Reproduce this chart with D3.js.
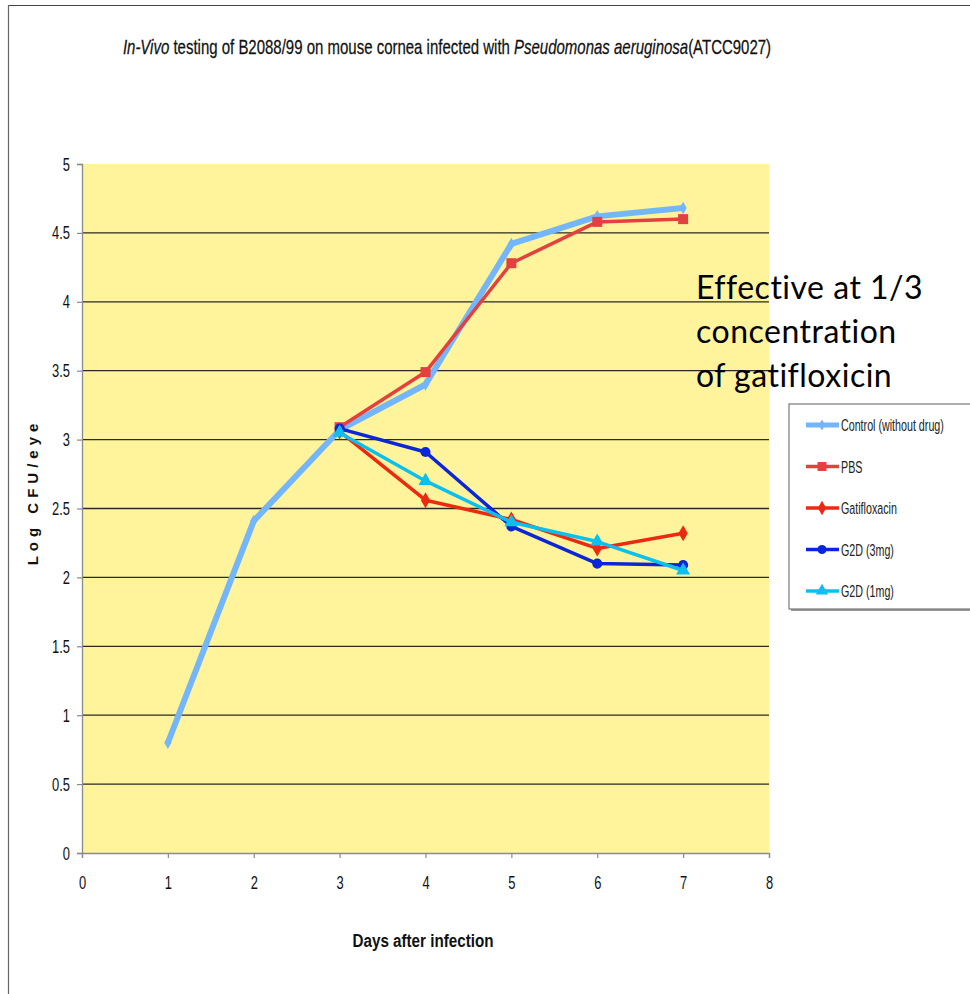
<!DOCTYPE html>
<html>
<head>
<meta charset="utf-8">
<script src="https://cdn.jsdelivr.net/npm/d3@7"></script>
<style>
  body { margin: 0; background: #fff; }
  svg { display: block; }
  text { font-family: "Liberation Sans", Arial, sans-serif; }
</style>
</head>
<body>
<svg id="chart" width="970" height="994"></svg>
<script>
// Chart data
const allDays = [1, 2, 3, 4, 5, 6, 7];
const laterDays = [3, 4, 5, 6, 7];
const controlVals = [0.80, 2.41, 3.07, 3.40, 4.42, 4.62, 4.68];
const pbsVals = [3.09, 3.49, 4.28, 4.58, 4.60];
const gatiVals = [3.06, 2.56, 2.42, 2.21, 2.32];
const g2d3Vals = [3.08, 2.91, 2.37, 2.10, 2.09];
const g2d1Vals = [3.05, 2.70, 2.40, 2.26, 2.05];
const seriesNames = ["Control (without drug)", "PBS", "Gatifloxacin", "G2D (3mg)", "G2D (1mg)"];
const xTicks = [0, 1, 2, 3, 4, 5, 6, 7, 8];
const yTicks = [0, 0.5, 1, 1.5, 2, 2.5, 3, 3.5, 4, 4.5, 5];

// series styling
const series = [
  { name: seriesNames[0], days: allDays, vals: controlVals, color: "#74b6fb", width: 6, marker: "diamond", size: 45 },
  { name: seriesNames[1], days: laterDays, vals: pbsVals, color: "#e4403f", width: 3.5, marker: "square", size: 100 },
  { name: seriesNames[2], days: laterDays, vals: gatiVals, color: "#ec2a12", width: 3.5, marker: "diamond", size: 75 },
  { name: seriesNames[3], days: laterDays, vals: g2d3Vals, color: "#0a26d6", width: 3.5, marker: "circle", size: 80 },
  { name: seriesNames[4], days: laterDays, vals: g2d1Vals, color: "#0cc0ee", width: 3.5, marker: "triangle", size: 85 }
];

const symbolTypes = {
  diamond: d3.symbolDiamond,
  square: d3.symbolSquare,
  circle: d3.symbolCircle,
  triangle: d3.symbolTriangle
};

// the original uses a narrow face; squeeze the regular one instead
const squeeze = 0.68;

const svg = d3.select("#chart");

// outer frame (only top and left edges show)
svg.append("line").attr("x1", 8).attr("x2", 970).attr("y1", 5.5).attr("y2", 5.5)
  .attr("stroke", "#444").attr("stroke-width", 1.2);
svg.append("line").attr("x1", 8.5).attr("x2", 8.5).attr("y1", 5).attr("y2", 994)
  .attr("stroke", "#666").attr("stroke-width", 1.2);

// plot area
const plot = { left: 82, right: 769, top: 164, bottom: 853 };

const x = d3.scaleLinear().domain([0, 8]).range([plot.left, plot.right]);
const y = d3.scaleLinear().domain([0, 5]).range([plot.bottom, plot.top]);

svg.append("rect")
  .attr("x", plot.left).attr("y", plot.top)
  .attr("width", plot.right - plot.left).attr("height", plot.bottom - plot.top)
  .attr("fill", "#fff49c");

// horizontal grid lines
svg.append("g")
  .selectAll("line")
  .data(yTicks.filter(d => d > 0 && d < 5))
  .join("line")
    .attr("x1", plot.left).attr("x2", plot.right)
    .attr("y1", d => y(d)).attr("y2", d => y(d))
    .attr("stroke", "#2a2a22").attr("stroke-width", 1.3);

// axes
const yAxis = svg.append("g")
  .attr("transform", `translate(${plot.left},0)`)
  .call(d3.axisLeft(y).tickValues(yTicks).tickSize(5).tickFormat(d3.format("")));
const xAxis = svg.append("g")
  .attr("transform", `translate(0,${plot.bottom})`)
  .call(d3.axisBottom(x).tickValues(xTicks).tickSize(5));

[yAxis, xAxis].forEach(ax => {
  ax.select(".domain").attr("stroke", "#8a8a8a").attr("stroke-width", 1.3);
  ax.selectAll(".tick line").attr("stroke", "#8a8a8a").attr("stroke-width", 1.2);
  ax.selectAll(".tick text")
    .attr("fill", "#111")
    .style("font-family", "'Liberation Sans', Arial, sans-serif")
    .style("font-size", "19px")
    .attr("transform", `scale(${squeeze},1)`);
});
yAxis.selectAll(".tick text").attr("x", -12 / squeeze);
xAxis.selectAll(".tick text").attr("y", 23);

// lines and markers
const line = d3.line()
  .x(d => x(d.day))
  .y(d => y(d.val));

series.forEach(s => {
  const pts = s.days.map((day, i) => ({ day: day, val: s.vals[i] }));
  const g = svg.append("g");
  g.append("path")
    .datum(pts)
    .attr("d", line)
    .attr("fill", "none")
    .attr("stroke", s.color)
    .attr("stroke-width", s.width)
    .attr("stroke-linejoin", "round");
  g.selectAll("path.marker")
    .data(pts)
    .join("path")
      .attr("class", "marker")
      .attr("transform", d => `translate(${x(d.day)},${y(d.val)})`)
      .attr("d", d3.symbol().type(symbolTypes[s.marker]).size(s.size))
      .attr("fill", s.color);
});

// title, squeezed as a whole so the tspans keep their flow
const title = svg.append("text")
  .attr("transform", "translate(447,54) scale(0.75,1)")
  .attr("text-anchor", "middle")
  .style("font-size", "20px")
  .attr("fill", "#111")
  .attr("stroke", "#111")
  .attr("stroke-width", 0.25);
title.append("tspan").style("font-style", "italic").text("In-Vivo");
title.append("tspan").text(" testing of B2088/99 on mouse cornea infected with ");
title.append("tspan").style("font-style", "italic").text("Pseudomonas aeruginosa");
title.append("tspan").text("(ATCC9027)");

// axis titles
svg.append("text")
  .attr("transform", "translate(38,492) rotate(-90)")
  .attr("text-anchor", "middle")
  .style("font-weight", "bold")
  .style("font-size", "15px")
  .style("letter-spacing", "5px")
  .attr("fill", "#111")
  .text("Log CFU/eye");

svg.append("text")
  .attr("transform", "translate(423,947) scale(0.8,1)")
  .attr("text-anchor", "middle")
  .style("font-weight", "bold")
  .style("font-size", "19px")
  .attr("fill", "#111")
  .text("Days after infection");

// annotation
const note = ["Effective at 1/3", "concentration", "of gatifloxicin"];
svg.append("g")
  .selectAll("text")
  .data(note)
  .join("text")
    .attr("x", 696)
    .attr("y", (d, i) => 299 + i * 44)
    .style("font-family", "Lato, 'Open Sans', sans-serif")
    .style("font-size", "32px")
    .style("letter-spacing", "0.5px")
    .style("font-variant-ligatures", "none")
    .attr("fill", "#000")
    .text(d => d);

// legend
const legend = svg.append("g").attr("transform", "translate(789,404)");
legend.append("rect")
  .attr("x", 2).attr("y", 2).attr("width", 190).attr("height", 205)
  .attr("fill", "#999");
legend.append("rect")
  .attr("x", 0).attr("y", 0).attr("width", 190).attr("height", 205)
  .attr("fill", "#fff").attr("stroke", "#777").attr("stroke-width", 1.2);

const item = legend.selectAll("g.item")
  .data(series)
  .join("g")
    .attr("class", "item")
    .attr("transform", (d, i) => `translate(0,${21 + i * 41.5})`);
item.append("line")
  .attr("x1", 17).attr("x2", 50)
  .attr("stroke", d => d.color)
  .attr("stroke-width", d => Math.min(d.width, 5));
item.append("path")
  .attr("transform", "translate(33,0)")
  .attr("d", d => d3.symbol().type(symbolTypes[d.marker]).size(d.size * 0.8)())
  .attr("fill", d => d.color);
item.append("text")
  .attr("transform", `translate(52,6) scale(0.63,1)`)
  .style("font-size", "17px")
  .attr("fill", "#222")
  .text(d => d.name);
</script>
</body>
</html>
